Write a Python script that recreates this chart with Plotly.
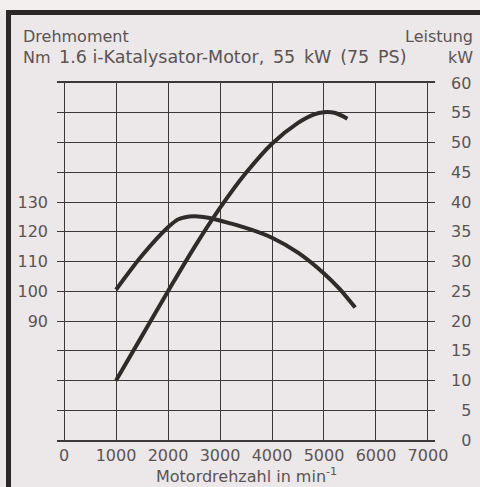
import plotly.graph_objects as go

# Data
rpm_torque = [1000, 1500, 2000, 2200, 2500, 2800, 3200, 3600, 4000, 4500, 5000, 5300, 5600]
torque_nm = [100.5, 112, 121.5, 124.2, 125.2, 124.6, 122.8, 120.7, 118, 113, 106, 100.8, 94.5]

rpm_power = [1000, 1500, 2000, 2500, 3000, 3500, 4000, 4500, 4800, 5000, 5200, 5450]
power_kw = [10, 17.5, 25, 32.3, 39, 44.9, 49.8, 53.3, 54.7, 55.1, 55, 54]

x_ticks = [0, 1000, 2000, 3000, 4000, 5000, 6000, 7000]
nm_ticks = [90, 100, 110, 120, 130]
kw_ticks = [0, 5, 10, 15, 20, 25, 30, 35, 40, 45, 50, 55, 60]

title_left1 = "Drehmoment"
title_left2 = "Nm"
title_mid = "1.6 i-Katalysator-Motor,\u200255\u2002kW\u2002(75\u2002PS)"
title_right1 = "Leistung"
title_right2 = "kW"
x_title = "Motordrehzahl in min<sup>-1</sup>"

W, H = 480, 487
L, R, T, B = 57, 45, 83, 47
PW, PH = W - L - R, H - T - B

def px(x):
    return (x - L) / PW

def py(y):
    return (H - B - y) / PH

FONT = "DejaVu Sans"
TXT = "#5a5454"
LINE = "#3c3838"
BG = "#ece7e8"

fig = go.Figure()
fig.add_trace(go.Scatter(x=rpm_torque, y=torque_nm, mode="lines", yaxis="y",
                         line=dict(color="#2f2b2b", width=4, shape="spline", smoothing=0.8),
                         showlegend=False, hoverinfo="skip"))
fig.add_trace(go.Scatter(x=rpm_power, y=power_kw, mode="lines", yaxis="y2",
                         line=dict(color="#2f2b2b", width=4, shape="spline", smoothing=1.0),
                         showlegend=False, hoverinfo="skip"))

def fs(v):
    s = str(v)
    return s if len(s) >= 2 else "\u2007" + s

fig.update_layout(
    width=W, height=H,
    margin=dict(l=L, r=R, t=T, b=B, autoexpand=False),
    paper_bgcolor=BG, plot_bgcolor=BG,
    font=dict(family=FONT, size=16, color=TXT),
    xaxis=dict(range=[-135, 7135], tickvals=x_ticks, ticktext=[str(v) for v in x_ticks],
               showgrid=True, gridcolor=LINE, gridwidth=1.4, zeroline=False,
               showline=True, mirror=True, linecolor=LINE, linewidth=1.6, automargin=False,
               ticks="", ticklabelstandoff=0, tickfont=dict(size=16, color=TXT)),
    yaxis=dict(range=[50, 170], tickvals=nm_ticks, ticktext=[str(v) for v in nm_ticks],
               showgrid=False, zeroline=False, showline=False, ticks="", automargin=False,
               ticklabelstandoff=8, tickfont=dict(size=16, color=TXT)),
    yaxis2=dict(range=[0, 60], overlaying="y", side="right", tickvals=kw_ticks,
                ticktext=[fs(v) for v in kw_ticks], automargin=False,
                showgrid=True, gridcolor=LINE, gridwidth=1.4, zeroline=False,
                showline=False, ticks="", ticklabelstandoff=15,
                tickfont=dict(size=16, color=TXT)),
    shapes=[
        dict(type="rect", xref="paper", yref="paper",
             x0=px(-5), x1=px(W + 20), y0=py(-5), y1=py(10),
             fillcolor="#f3efef", line=dict(width=0), layer="below"),
        dict(type="rect", xref="paper", yref="paper",
             x0=px(8.5), x1=px(W + 20), y0=py(H + 20), y1=py(12.5),
             fillcolor="rgba(0,0,0,0)", line=dict(color="#2a2626", width=5)),
    ],
    annotations=[
        dict(text=title_left1, xref="paper", yref="paper", x=px(21), y=py(36),
             xanchor="left", yanchor="middle", showarrow=False),
        dict(text=title_left2, xref="paper", yref="paper", x=px(21), y=py(57),
             xanchor="left", yanchor="middle", showarrow=False),
        dict(text=title_mid, xref="paper", yref="paper", x=px(57), y=py(57),
             xanchor="left", yanchor="middle", showarrow=False, font=dict(size=17.5)),
        dict(text=title_right1, xref="paper", yref="paper", x=px(475), y=py(36),
             xanchor="right", yanchor="middle", showarrow=False),
        dict(text=title_right2, xref="paper", yref="paper", x=px(475), y=py(57),
             xanchor="right", yanchor="middle", showarrow=False),
        dict(text=x_title, xref="paper", yref="paper", x=px(246), y=py(475),
             xanchor="center", yanchor="middle", showarrow=False, font=dict(size=16)),
    ],
)

fig.write_html("out.html", config={"displayModeBar": False},
               post_script="document.body.style.margin='0';document.body.style.overflow='hidden';")
